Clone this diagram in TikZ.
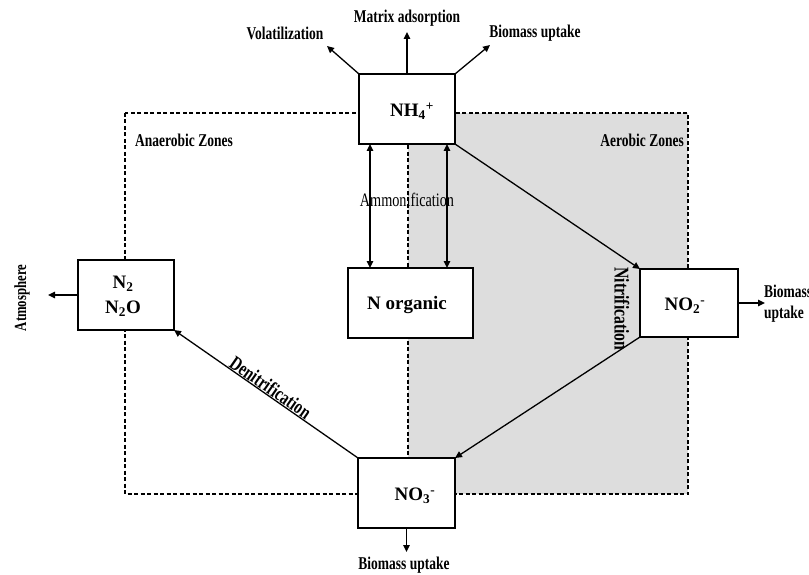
\documentclass[tikz,border=0pt]{standalone}
\usepackage{fontspec}
\setmainfont{Liberation Serif}
\newfontfamily\cond{Liberation Serif}[FakeStretch=0.75]
\usetikzlibrary{arrows.meta}
\definecolor{zonegray}{RGB}{221,221,221}
\tikzset{
  box/.style={draw, line width=1.4pt, fill=white, inner sep=0pt, outer sep=0pt,
    minimum height=70pt, align=center},
  boxtxt/.style={font=\fontsize{19}{25}\selectfont\bfseries, inner sep=0pt, align=center},
  lbl/.style={font=\cond\fontsize{18}{21}\selectfont\bfseries, inner sep=1pt},
  arr/.style={line width=1.3pt, -{Triangle[length=7pt,width=6.5pt]}},
  darr/.style={line width=1.3pt, {Triangle[length=7pt,width=6.5pt]}-{Triangle[length=7pt,width=6.5pt]}},
  zone/.style={line width=1.2pt, dash pattern=on 4pt off 2.5pt},
}
\begin{document}
\begin{tikzpicture}[x=1pt,y=-1pt]
\useasboundingbox (0,0) rectangle (809,575);
% zones
\fill[zonegray] (408,113) rectangle (688,494);
\draw[zone] (125,113) rectangle (688,494);
\draw[zone] (408,113) -- (408,494);
\node[lbl, anchor=west] (anaer) at (134,140) {Anaerobic Zones};
\node[lbl, anchor=east] (aer) at (685,140) {Aerobic Zones};
% boxes
\node[box, minimum width=96pt] (nh) at (407,109) {};
\node[boxtxt] (nhtext) at (412,111) {NH\textsubscript{4}\textsuperscript{+}};
\node[box, minimum width=96pt] (n2) at (126,295) {};
\node[boxtxt] (n2text) at (123,296) {N\textsubscript{2}\\N\textsubscript{2}O};
\node[box, minimum width=125pt] (norg) at (410.5,303) {};
\node[boxtxt] (norgtext) at (407,305) {N organic};
\node[box, minimum width=98pt, minimum height=68pt] (no2) at (689,303) {};
\node[boxtxt] (no2text) at (685,306) {NO\textsubscript{2}\textsuperscript{-}};
\node[box, minimum width=97pt] (no3) at (406.5,493) {};
\node[boxtxt] (no3text) at (415,496) {NO\textsubscript{3}\textsuperscript{-}};
% outputs of NH4+
\coordinate (volt) at (327,46);
\coordinate (matt) at (407,32);
\coordinate (biot) at (490,45);
\draw[arr] (nh.north west) -- (volt);
\draw[arr] (nh.north) -- (matt);
\draw[arr] (nh.north east) -- (biot);
\node[lbl] (vol) at (285,33) {Volatilization};
\node[lbl] (mat) at (407,18) {Matrix adsorption};
\node[lbl] (bio) at (535,33) {Biomass uptake};
% ammonification
\coordinate (al) at (370,0);
\coordinate (ar) at (447,0);
\draw[darr] (nh.south -| al) -- (norg.north -| al);
\draw[darr] (nh.south -| ar) -- (norg.north -| ar);
\node[font=\cond\fontsize{19}{21}\selectfont, inner sep=0pt] (amm) at (407,200) {Ammonification};
% nitrification
\draw[arr] (nh.south east) -- (no2.north west);
\node[font=\cond\fontsize{21}{23}\selectfont\bfseries, rotate=-90, inner sep=0pt] (nit) at (622,309) {Nitrification};
\draw[arr] (no2.south west) -- (no3.north east);
% denitrification
\draw[arr] (no3.north west) -- node[sloped, above, pos=0.5, inner sep=0.5pt, font=\cond\fontsize{20}{22}\selectfont\bfseries] (den) {Denitrification} (n2.south east);
% atmosphere
\coordinate (atmt) at (48,295);
\draw[arr] (n2.west) -- (atmt);
\node[lbl, font=\cond\fontsize{17}{19}\selectfont\bfseries, rotate=90] (atm) at (22,298) {Atmosphere};
% NO2 biomass
\coordinate (no2t) at (765,303);
\draw[arr] (no2.east) -- (no2t);
\node[lbl, anchor=west, align=left] (no2bio) at (763,304) {Biomass\\uptake};
% NO3 biomass
\coordinate (no3t) at (406.5,552);
\draw[arr] (no3.south) -- (no3t);
\node[lbl] (no3bio) at (404,565) {Biomass uptake};
\end{tikzpicture}
\end{document}
